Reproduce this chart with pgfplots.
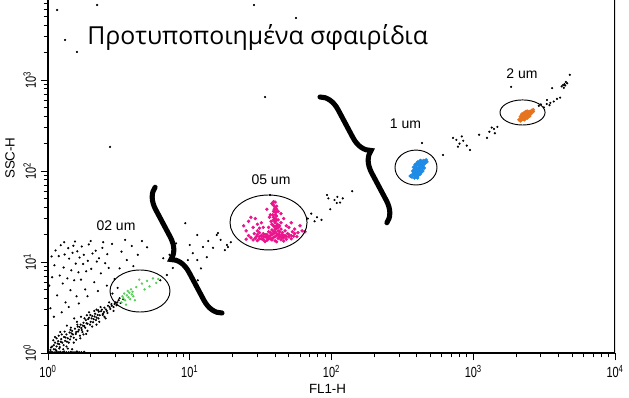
\documentclass[border=0pt]{standalone}
\usepackage{pgfplots}
\pgfplotsset{compat=1.18}
\usepackage{fontspec}
\usepackage{graphicx}
\setmainfont{Liberation Sans}
\newfontfamily\titlefont{Open Sans}
\usetikzlibrary{decorations.pathreplacing}
\newcommand{\tl}[1]{\scalebox{0.75}[1]{#1}}
\definecolor{cgreen}{RGB}{90,205,90}
\definecolor{cmag}{RGB}{235,20,140}
\definecolor{cblue}{RGB}{30,140,230}
\definecolor{corange}{RGB}{230,115,30}
\begin{document}
\begin{tikzpicture}
\useasboundingbox (-36pt,-33pt) rectangle (435.75pt,264.75pt);
\begin{axis}[
  at={(0pt,0pt)}, anchor=south west,
  scale only axis, width=425.25pt, height=264.75pt,
  xmode=log, ymode=log,
  xmin=1, xmax=10000, ymin=1, ymax=7568,
  axis x line*=bottom, axis y line*=left,
  axis line style={line width=0.8pt},
  tick align=outside,
  major tick length=5.5pt, minor tick length=3.2pt,
  tick style={black, line width=0.6pt},
  xtick={1,10,100,1000,10000},
  xticklabels={\tl{10\textsuperscript{0}},\tl{10\textsuperscript{1}},\tl{10\textsuperscript{2}},\tl{10\textsuperscript{3}},\tl{10\textsuperscript{4}}},
  minor xtick={2,3,4,5,6,7,8,9,20,30,40,50,60,70,80,90,200,300,400,500,600,700,800,900,2000,3000,4000,5000,6000,7000,8000,9000},
  ytick={1,10,100,1000},
  yticklabels={\tl{10\textsuperscript{0}},\tl{10\textsuperscript{1}},\tl{10\textsuperscript{2}},\tl{10\textsuperscript{3}}},
  minor ytick={2,3,4,5,6,7,8,9,20,30,40,50,60,70,80,90,200,300,400,500,600,700,800,900,2000,3000,4000,5000,6000,7000},
  tick label style={font=\fontsize{11}{12}\selectfont},
  yticklabel style={rotate=90, anchor=south},
  xlabel={FL1-H}, ylabel={SSC-H},
  label style={font=\fontsize{10}{11}\selectfont},
  xlabel style={at={(axis description cs:0.493,-0.102)}, anchor=center},
  ylabel style={at={(axis description cs:-0.067,0.552)}, anchor=center},
  cycle list={{black}},
]
\draw[line width=0.8pt] (rel axis cs:1,0) -- (rel axis cs:1,1);
% black events
\addplot[only marks, mark=*, color=black, mark size=0.6pt, mark options={draw=none, fill=black}] table {
x y
1.02 1.02
1.05 1.03
1.08 1.02
1.12 1.02
1.15 1.05
1.18 1.02
1.22 1.03
1.26 1.02
1.30 1.04
1.35 1.02
1.40 1.02
1.45 1.03
1.50 1.02
1.55 1.02
1.60 1.04
1.66 1.02
1.72 1.02
1.80 1.03
1.04 1.08
1.10 1.10
1.20 1.12
1.28 1.10
1.38 1.12
1.48 1.10
1.05 1.15
1.10 1.22
1.12 1.30
1.15 1.18
1.18 1.35
1.20 1.25
1.24 1.42
1.26 1.30
1.30 1.50
1.32 1.36
1.35 1.60
1.38 1.45
1.42 1.68
1.45 1.52
1.48 1.75
1.50 1.60
1.55 1.85
1.58 1.70
1.62 1.95
1.65 1.80
1.70 2.05
1.72 1.88
1.78 2.15
1.80 1.98
1.85 2.30
1.90 2.10
1.95 2.45
2.00 2.20
2.05 2.55
2.10 2.35
2.15 2.70
2.20 2.45
2.28 2.85
2.32 2.60
2.40 3.00
2.45 2.70
2.50 3.15
2.60 2.90
2.65 3.30
2.75 3.05
2.80 3.45
2.90 3.20
3.00 3.60
3.05 3.35
3.15 3.80
3.25 3.55
2.20 3.00
1.95 2.80
2.50 2.50
1.60 2.20
1.40 1.30
1.75 1.70
2.30 2.20
2.70 3.60
1.25 1.60
1.15 1.45
1.90 1.75
2.05 1.95
1.45 1.90
1.68 1.55
2.35 3.20
2.90 2.90
3.20 4.00
3.40 3.90
1.07 1.18
1.13 1.09
1.17 1.27
1.21 1.16
1.23 1.33
1.29 1.22
1.33 1.48
1.36 1.33
1.43 1.41
1.47 1.64
1.52 1.47
1.57 1.62
1.63 1.72
1.67 1.93
1.73 1.79
1.76 2.00
1.83 1.90
1.87 2.12
1.92 2.36
1.98 2.05
2.03 2.40
2.08 2.18
2.13 2.52
2.18 2.30
2.24 2.62
2.27 2.40
2.37 2.88
2.43 2.62
2.48 2.82
2.56 3.02
2.63 2.75
2.72 3.20
2.82 3.30
2.95 3.45
3.08 3.60
1.12 1.50
1.22 1.70
1.36 2.00
1.53 2.40
1.71 2.50
1.88 2.60
2.12 2.90
1.58 1.40
1.78 1.60
2.20 2.05
2.55 2.40
1.09 1.38
1.19 1.55
1.31 1.72
1.44 1.80
1.61 2.05
1.81 2.40
1.99 2.62
2.26 2.95
1.35 1.18
1.52 1.30
1.69 1.45
1.86 1.62
1.04 3.1
1.07 6.8
1.11 9.2
1.13 13.4
1.16 4.3
1.19 11.6
1.21 7.1
1.23 15.3
1.27 5.8
1.29 8.7
1.31 12.1
1.33 3.6
1.37 6.6
1.39 14.2
1.41 10.9
1.44 4.9
1.46 8.1
1.49 12.6
1.51 15.1
1.53 6.3
1.57 9.6
1.59 4.2
1.61 13.1
1.64 7.7
1.67 11.2
1.71 6.4
1.73 14.8
1.77 9.5
1.79 12.0
1.83 5.0
1.86 7.9
1.91 10.3
1.94 15.6
2.02 8.4
2.06 12.4
2.12 6.0
2.17 13.3
2.21 10.1
2.29 11.0
2.36 7.5
2.42 14.3
2.53 9.7
2.62 12.2
2.68 8.6
2.83 15.8
1.10 2.5
1.25 2.8
1.40 3.2
1.65 3.5
1.30 16.5
1.55 16.8
1.90 4.2
2.25 4.8
2.60 5.5
2.95 6.5
3.10 5.2
2.85 4.5
3.30 13
3.60 10.5
3.90 15
4.30 12
4.60 17
3.50 17.5
5.00 14.5
4.00 9.0
3.20 8.5
1.02 5.5
1.06 11.5
2.00 17
2.45 16.5
6.2 6.3
6.9 7.2
7.6 8.6
8.5 9.8
9.7 10.5
11.3 10.5
13.2 11.3
12.4 14.6
11.3 19.8
15.5 19.8
9.3 26.7
10.0 15.4
14.6 14.3
17.7 13.5
18.3 15.4
15.8 20.8
18.6 14.6
11.4 6.3
7.2 12
8.0 16
13.5 17
16.5 17.5
19.5 16.5
10.5 12.5
12.0 8.5
6.5 11
79 31
85 29
76 28
93 54.5
109 44.5
36.8 54.5
120 50
105 48
140 60
68 30
72 34
98 38
95 50
115 45
110 52
720 231
760 220
800 200
850 215
900 190
948 170
780 185
830 240
612 150
435 203
1250 231
1300 270
1400 290
1480 305
1350 300
1420 260
1100 250
3311 603
3500 560
3700 580
3900 620
4100 640
3450 530
3600 813
4200 850
4300 880
4400 900
4500 950
4350 820
4450 870
4600 920
4800 1140
3000 540
2900 520
3150 500
3300 545
1850 840
1.16 5875
2.22 6670
1.32 2754
1.60 2032
2.74 184
28.4 6670
34 650
56.2 4800
};
% 0.2 um beads
\addplot[only marks, mark=*, color=cgreen, mark size=0.7pt, mark options={draw=none, fill=cgreen}] table {
x y
3.3 3.6
3.4 4.0
3.5 3.8
3.6 4.3
3.7 4.1
3.75 4.6
3.8 3.9
3.9 4.4
3.45 4.5
3.55 3.4
3.65 4.8
4.0 4.2
3.85 5.0
3.35 4.2
4.2 5.3
4.6 5.8
5.0 6.2
5.5 6.6
4.8 5.0
5.8 5.9
4.4 6.4
5.2 5.4
6.0 6.5
4.1 3.8
3.95 4.7
};
% 0.5 um beads
\addplot[only marks, mark=*, color=cmag, mark size=1.1pt, mark options={draw=none, fill=cmag}] table {
x y
38 44
39 42
40 40
41 38
39 36
40.5 35
38.5 33
41 32
40 30
39 29
42 29
37.5 28
40 27
41.5 26
38 26
43 25
39.5 24.5
36 24
41 23.5
44 23
38 22.5
42 22
40 21.5
37 21
45 21
39 20.5
43 20
35 20
41 19.5
47 19.5
38.5 43
42 36
36.5 31
44 27
37 33
25 17.8
27 18.5
28 17.5
29.5 19
30 17.2
31 18
32 19.5
33 17.6
34 18.8
35 17.3
36 19
37 18
38 17.5
39 18.6
40 17.1
42 18.2
44 17.6
46 18.5
48 17.8
50 18.9
52 18
54 19.2
57 19
33 20.5
36 21.5
45 20
49 20.5
31 21
26 19.5
28.5 20.5
30 22
47 22
53 21.5
34 16.8
41 16.7
38 18.2
43 19
35.5 18.2
46 17
29 18.3
24 25
26 28
28 24
30 26
27 31
32 27
33 24
25 22
50 24
55 23
58 21
62 22
65 21.5
52 27
46 30
48 25
29 30
44 34
35 38
31 23.5
60 25
36 18
37 19.5
38 20
39 21.5
40 19
41 20.5
42 20
43 21.5
44 19
45 18.5
40 23
41 25
39 25
42 24
40 28
41 29
39 31
40 33
40 36
39.5 38
41 41
35 19
34 20
33 19
32 18
31 19
30 20
46 19.5
48 19
50 20
52 19.5
55 20.5
40 45.5
39 46
};
% 1 um beads
\addplot[only marks, mark=*, color=cblue, mark size=1.2pt, mark options={draw=none, fill=cblue}] table {
x y
360 88
370 86
375 92
380 95
385 90
390 98
395 94
398 102
400 97
405 105
408 100
410 108
412 103
415 110
418 106
420 113
425 108
428 116
430 111
435 119
438 114
440 122
445 117
450 125
455 121
460 128
392 104
402 92
416 98
424 120
436 106
448 130
380 100
395 110
405 96
410 118
420 101
432 125
442 110
465 132
470 126
385 84
412 92
395 115
400 120
405 125
415 125
420 128
425 130
400 88
410 90
420 92
430 98
440 100
450 108
385 105
380 110
390 118
375 100
415 118
435 128
425 95
405 84
395 86
};
% 2 um beads
\addplot[only marks, mark=*, color=corange, mark size=1.1pt, mark options={draw=none, fill=corange}] table {
x y
2100 365
2150 375
2180 360
2200 385
2230 380
2260 395
2290 390
2310 405
2340 400
2370 415
2400 410
2430 425
2460 420
2490 435
2520 445
2560 455
2600 465
2250 370
2350 425
2450 440
2550 440
2200 400
2400 395
2300 420
2480 450
2650 470
2150 395
2200 420
2250 430
2300 440
2350 450
2400 455
2250 390
2350 380
2450 400
2500 415
2550 425
2600 440
2150 355
2300 365
2400 380
2500 400
2650 450
};
\end{axis}
% gates
\draw[line width=0.7pt] (69pt,46.5pt) ellipse [x radius=22.5pt, y radius=15.75pt];
\draw[line width=0.7pt] (165.4pt,97.9pt) ellipse [x radius=28.9pt, y radius=20.6pt];
\draw[line width=0.7pt] (276pt,139.1pt) ellipse [x radius=15.75pt, y radius=13.1pt];
\draw[line width=0.7pt] (355.9pt,180.4pt) ellipse [x radius=16.9pt, y radius=9.4pt];
% labels
\node[font=\fontsize{10.5}{12}\selectfont] at (51pt,95.25pt) {02 um};
\node[font=\fontsize{10.5}{12}\selectfont] at (167.25pt,129.75pt) {05 um};
\node[font=\fontsize{10.5}{12}\selectfont] at (268.1pt,171.75pt) {1 um};
\node[font=\fontsize{10.5}{12}\selectfont] at (355.5pt,209.25pt) {2 um};
% braces
\draw[line width=3.8pt, line cap=round, decorate, decoration={brace, amplitude=15pt}] (130.5pt,30pt) -- (80.25pt,124.5pt);
\draw[line width=3.8pt, line cap=round, decorate, decoration={brace, amplitude=15pt}] (204pt,192pt) -- (254.25pt,97.5pt);
% title
\node[anchor=base west, inner sep=0pt, font=\titlefont\fontsize{18.6}{22}\selectfont] at (29.25pt,231pt) {Προτυποποιημένα σφαιρίδια};
\end{tikzpicture}
\end{document}
